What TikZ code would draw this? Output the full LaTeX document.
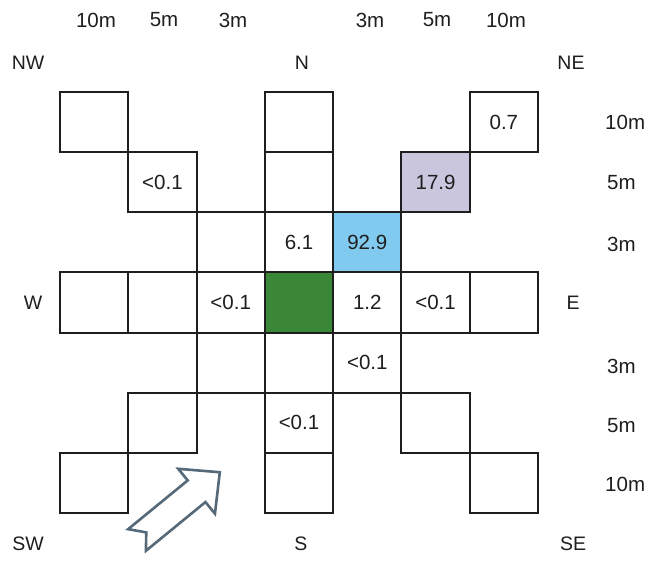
\documentclass[tikz,border=0pt]{standalone}
\usepackage{fontspec}
\setmainfont{Liberation Sans}
\definecolor{cellgreen}{RGB}{58,135,55}
\definecolor{cellblue}{RGB}{128,202,240}
\definecolor{celllav}{RGB}{202,198,222}
\definecolor{arrowcol}{RGB}{85,105,120}
\definecolor{ink}{RGB}{30,30,30}
\begin{document}
\begin{tikzpicture}[x=1pt,y=-1pt,
  cell/.style={draw=ink,line width=2pt,minimum width=68.29pt,minimum height=60.14pt,
    inner sep=0pt,outer sep=0pt,font=\fontsize{20.5}{22}\selectfont,text=ink},
  lbl/.style={font=\fontsize{20.5}{22}\selectfont,text=ink,inner sep=0pt},
  dirlbl/.style={font=\fontsize{19.5}{21}\selectfont,text=ink,inner sep=0pt}]
\path[use as bounding box,fill=white] (0,0) rectangle (656,560);
% cells: column / row / text / fill
\foreach \c/\r/\t/\f in {0/0/{}/white,3/0/{}/white,6/0/{0.7}/white,
  1/1/{<0.1}/white,3/1/{}/white,5/1/{17.9}/celllav,
  2/2/{}/white,3/2/{6.1}/white,4/2/{92.9}/cellblue,
  0/3/{}/white,1/3/{}/white,2/3/{<0.1}/white,3/3/{}/cellgreen,4/3/{1.2}/white,5/3/{<0.1}/white,6/3/{}/white,
  2/4/{}/white,3/4/{}/white,4/4/{<0.1}/white,
  1/5/{}/white,3/5/{<0.1}/white,5/5/{}/white,
  0/6/{}/white,3/6/{}/white,6/6/{}/white}
  \node[cell,fill=\f] (c-\c-\r) at ({60+68.2857*(\c+0.5)},{92+60.14*(\r+0.5)}) {\t};
% distance labels (top)
\node[lbl] (t10l) at (96,20) {10m};
\node[lbl] (t5l) at (164,20) {5m};
\node[lbl] (t3l) at (233,20) {3m};
\node[lbl] (t3r) at (370,20) {3m};
\node[lbl] (t5r) at (437,20) {5m};
\node[lbl] (t10r) at (506,20) {10m};
% distance labels (right)
\node[lbl,anchor=west] (r10u) at (605,122) {10m};
\node[lbl,anchor=west] (r5u) at (607,183) {5m};
\node[lbl,anchor=west] (r3u) at (607,244) {3m};
\node[lbl,anchor=west] (r3d) at (607,366) {3m};
\node[lbl,anchor=west] (r5d) at (607,426) {5m};
\node[lbl,anchor=west] (r10d) at (605,484) {10m};
% compass labels
\node[dirlbl] (nw) at (28,63) {NW};
\node[dirlbl] (n) at (302,63) {N};
\node[dirlbl] (ne) at (571,63) {NE};
\node[dirlbl] (w) at (33,303) {W};
\node[dirlbl] (e) at (573,303) {E};
\node[dirlbl] (sw) at (28,544) {SW};
\node[dirlbl] (s) at (301,544) {S};
\node[dirlbl] (se) at (573,544) {SE};
% wind arrow
\begin{scope}[shift={(137,540)},rotate=39.3]
  \draw[arrowcol,fill=white,line width=2.6pt,line join=miter]
    (0,-14) -- (77,-14) -- (77,-29) -- (107,0) -- (77,29) -- (77,14) -- (0,14) -- (12,0) -- cycle;
\end{scope}
\end{tikzpicture}
\end{document}
